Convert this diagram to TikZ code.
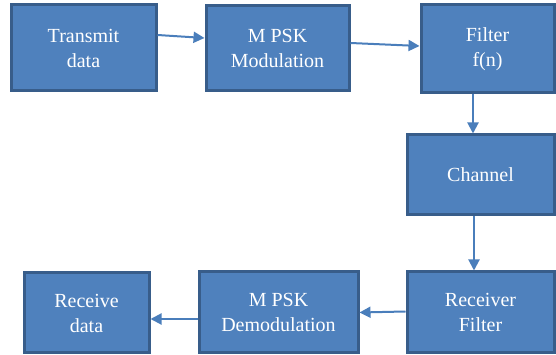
\documentclass[tikz,border=0pt]{standalone}
\usepackage{fontspec}
\setmainfont{Liberation Serif}
\usetikzlibrary{arrows.meta}
\definecolor{boxfill}{HTML}{4F81BD}
\definecolor{boxline}{HTML}{385D8A}
\definecolor{arrowc}{HTML}{4A7EBB}
\begin{document}
\begin{tikzpicture}[x=1pt,y=1pt,
  blk/.style={draw=boxline,line width=3pt,fill=boxfill,text=white,align=center,
    inner sep=0pt,font=\fontsize{20}{25}\selectfont},
  arr/.style={draw=arrowc,line width=2pt,-{Triangle[length=11pt,width=11pt]}}]
\useasboundingbox (0,0) rectangle (556,355);
% y_tikz = 355 - y_px
\node[blk,minimum width=145pt,minimum height=86pt] (t) at (83.5,307) {Transmit\\data};
\node[blk,minimum width=143pt,minimum height=85pt] (m) at (277.5,306.5) {M PSK\\Modulation};
\node[blk,minimum width=133pt,minimum height=88pt] (f) at (487.5,306) {Filter\\f(n)};
\node[blk,minimum width=147pt,minimum height=80pt] (c) at (480.5,180) {Channel};
\node[blk,minimum width=147pt,minimum height=81pt] (rf) at (480.5,42.5) {Receiver\\Filter};
\node[blk,minimum width=159pt,minimum height=81pt] (d) at (278.5,42.5) {M PSK\\Demodulation};
\node[blk,minimum width=125pt,minimum height=80pt] (r) at (86.5,42) {Receive\\data};
\draw[arr] ([yshift=13pt]t.east) -- ([yshift=10.5pt]m.west);
\draw[arr] ([yshift=5.5pt]m.east) -- ([yshift=3pt]f.west);
\draw[arr] ([xshift=-14.5pt]f.south) -- ([xshift=-14.5pt]f.south |- c.north);
\draw[arr] ([xshift=-6.5pt]c.south) -- ([xshift=-6.5pt]c.south |- rf.north);
\draw[arr] ([yshift=1pt]rf.west) -- ([yshift=0pt]d.east);
\draw[arr] ([yshift=-6.5pt]d.west) -- ([yshift=-6pt]r.east);
\end{tikzpicture}
\end{document}
